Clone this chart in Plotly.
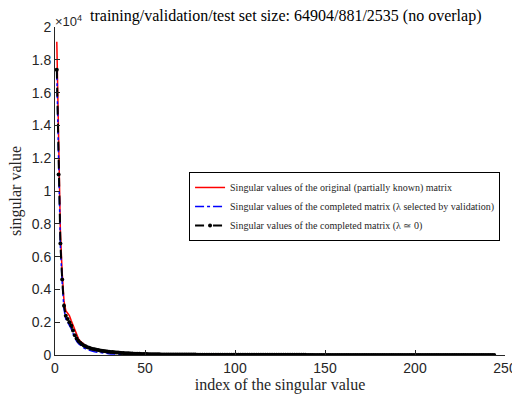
import plotly.graph_objects as go

# index of the singular value (1..244)
n_values = 244
index = list(range(1, n_values + 1))

# Singular values of the original (partially known) matrix
sv_original_head = [19100, 12500, 7500, 5000, 3300, 2700, 2550, 2400, 2100, 1800,
                    1500, 1200, 1000, 850, 750, 650, 580, 520, 470, 430,
                    390, 360, 335, 310, 290, 270, 252, 236, 220, 205,
                    192, 180, 168, 158, 148, 139, 130, 122, 115, 108,
                    101, 95, 89, 84, 79, 74, 70, 66, 62, 58]
# Singular values of the completed matrix (lambda ~ 0)
sv_lambda0_head = [17400, 11000, 6800, 4600, 3000, 2400, 2200, 2000, 1800, 1500,
                   1200, 1000, 850, 750, 650, 580, 530, 480, 440, 400,
                   370, 345, 320, 300, 280, 262, 245, 230, 215, 200,
                   188, 176, 165, 155, 146, 137, 129, 121, 114, 107,
                   100, 94, 88, 83, 78, 73, 69, 65, 61, 58]
# common slow tail (index 51..244)
sv_tail = [55, 52, 50, 48, 46, 44, 42, 40, 38, 37,
           36, 35, 34, 33, 32, 31, 30, 29, 28, 27,
           26, 26, 25, 25, 24, 24, 23, 23, 22, 22,
           21, 21, 20, 20, 19, 19, 19, 18, 18, 18,
           17, 17, 17, 16, 16, 16, 15, 15, 15, 15,
           14, 14, 14, 14, 13, 13, 13, 13, 12, 12,
           12, 12, 12, 11, 11, 11, 11, 11, 10, 10,
           10, 10, 10, 10, 9, 9, 9, 9, 9, 9,
           9, 8, 8, 8, 8, 8, 8, 8, 8, 7,
           7, 7, 7, 7, 7, 7, 7, 7, 6, 6,
           6, 6, 6, 6, 6, 6, 6, 6, 6, 6,
           5, 5, 5, 5, 5, 5, 5, 5, 5, 5,
           5, 5, 5, 4, 4, 4, 4, 4, 4, 4,
           4, 4, 4, 4, 4, 4, 4, 4, 4, 4,
           3, 3, 3, 3, 3, 3, 3, 3, 3, 3,
           3, 3, 3, 3, 3, 3, 3, 3, 3, 3,
           2, 2, 2, 2, 2, 2, 2, 2, 2, 2,
           2, 2, 2, 2, 2, 2, 2, 2, 2, 2,
           2, 1, 1, 1, 1, 1, 1, 1, 1, 1,
           1, 1, 1, 0]
# Singular values of the completed matrix (lambda selected by validation)
sv_validation = [17300, 10800, 6600, 4400, 2800, 2200, 2000, 1800, 1600, 1300,
                 1050, 850, 700, 600, 500, 430, 370, 320, 280, 250,
                 220, 195, 175, 155, 140, 125, 110, 98, 87, 77,
                 68, 60, 52, 45, 39, 33, 28, 24, 20, 17,
                 14, 12, 10, 9, 8, 7, 6, 5, 5, 4,
                 4, 3, 3, 3, 2, 2, 2, 2, 2, 2,
                 1, 1, 1, 1, 1, 1, 1, 1, 1, 1]
sv_validation = sv_validation + [0] * (n_values - len(sv_validation))
sv_original = sv_original_head + sv_tail
sv_lambda0 = sv_lambda0_head + sv_tail

SCALE = 1e4
x_ticks = [0, 50, 100, 150, 200, 250]
y_ticks = [0, 0.2, 0.4, 0.6, 0.8, 1, 1.2, 1.4, 1.6, 1.8, 2]
y_tick_text = ["0", "0.2", "0.4", "0.6", "0.8", "1", "1.2", "1.4", "1.6", "1.8", "2"]

SERIF = "Liberation Serif"
SANS = "Liberation Sans"

fig = go.Figure()
fig.add_trace(go.Scatter(
    x=index, y=[v / SCALE for v in sv_original], mode="lines",
    line=dict(color="rgb(255,0,0)", width=1.5),
    name="Singular values of the original (partially known) matrix"))
fig.add_trace(go.Scatter(
    x=index, y=[v / SCALE for v in sv_validation], mode="lines",
    line=dict(color="rgb(0,0,255)", width=1.5, dash="dashdot"),
    name="Singular values of the completed matrix (λ selected by validation)"))
fig.add_trace(go.Scatter(
    x=index, y=[v / SCALE for v in sv_lambda0], mode="lines+markers",
    line=dict(color="black", width=2, dash="dash"),
    marker=dict(color="black", size=4),
    name="Singular values of the completed matrix (λ ≃ 0)"))

axis_font = dict(family=SANS, size=14, color="#262626")
title_font = dict(family=SERIF, size=16, color="#262626")

fig.update_layout(
    width=512, height=394,
    margin=dict(l=55, r=7, t=27, b=39, autoexpand=False),
    paper_bgcolor="white", plot_bgcolor="white",
    showlegend=True,
    legend=dict(
        x=0.989, y=0.558, xanchor="right", yanchor="top",
        bgcolor="white", bordercolor="black", borderwidth=1,
        font=dict(family=SERIF, size=10, color="#262626"),
        itemwidth=30, tracegroupgap=0,
    ),
    xaxis=dict(
        range=[0, 250], tickvals=x_ticks, ticks="inside", ticklen=5,
        tickcolor="#262626", showline=True, linecolor="#262626", linewidth=1,
        showgrid=False, zeroline=False, tickfont=axis_font,
        ticklabeloverflow="allow",
        title=dict(text="index of the singular value", font=title_font, standoff=2),
    ),
    yaxis=dict(
        range=[0, 2], tickvals=y_ticks, ticktext=y_tick_text, ticks="inside", ticklen=5,
        tickcolor="#262626", showline=True, linecolor="#262626", linewidth=1,
        showgrid=False, zeroline=False, tickfont=axis_font,
        ticklabeloverflow="allow",
        title=dict(text="singular value", font=title_font, standoff=6),
    ),
    annotations=[
        dict(x=0, y=1, xref="paper", yref="paper", xanchor="left", yanchor="bottom",
             xshift=-2, yshift=-4, showarrow=False,
             text="×10<sup>4</sup>", font=dict(family=SANS, size=13, color="#262626")),
        dict(x=0.073, y=1, xref="paper", yref="paper", xanchor="left", yanchor="bottom",
             yshift=0, showarrow=False,
             text="training/validation/test set size: 64904/881/2535 (no overlap)",
             font=dict(family=SERIF, size=16, color="black")),
    ],
)

fig.write_html("out.html")
